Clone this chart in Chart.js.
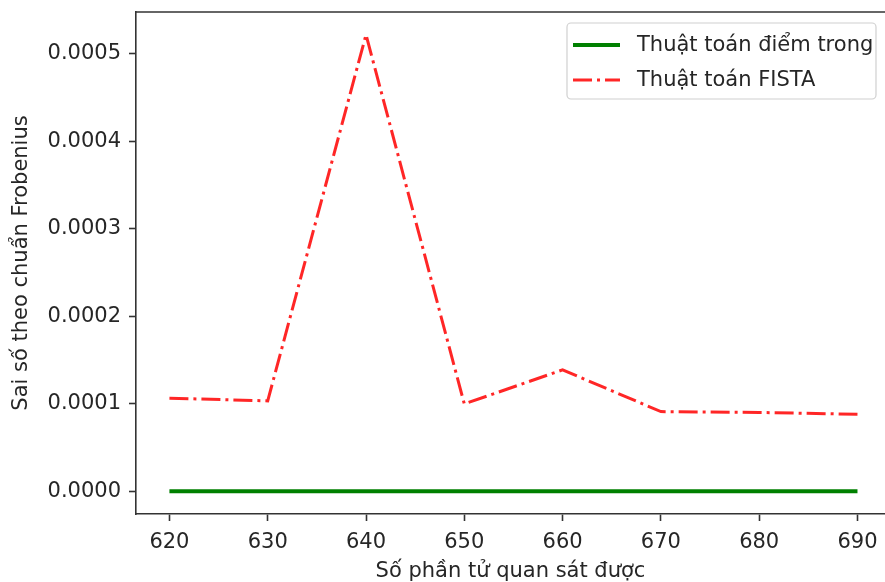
<!DOCTYPE html>
<html>
<head>
<meta charset="utf-8">
<script src="https://cdn.jsdelivr.net/npm/chart.js@4/dist/chart.umd.min.js"></script>
<style>
    html, body { margin: 0; padding: 0; background: #fff; overflow: hidden; }
    canvas { display: block; }
</style>
</head>
<body>
<canvas id="errorChart" width="885" height="582"></canvas>
<script>
// Dane wykresu
const observed = [620, 630, 640, 650, 660, 670, 680, 690];
const interiorPoint = [0, 0, 0, 0, 0, 0, 0, 0];
const fista = [0.0001064, 0.0001033, 0.000522, 0.0000998, 0.0001387, 0.0000910, 0.0000900, 0.0000880];
const xTicks = [620, 630, 640, 650, 660, 670, 680, 690];
const yTicks = [0, 0.0001, 0.0002, 0.0003, 0.0004, 0.0005];

const FONT = 'DejaVu Sans';
const TEXT = '#262626';
const AXIS = '#333';

// Górna krawędź ramki oraz legenda w prawym górnym rogu
// (prawa krawędź wykresu jest ucięta na obrazku)
const framePlugin = {
    id: 'frame',
    afterDraw(chart) {
        const { ctx, chartArea: a } = chart;
        ctx.save();
        ctx.strokeStyle = AXIS;
        ctx.lineWidth = 1.6;
        ctx.beginPath();
        ctx.moveTo(a.left, a.top);
        ctx.lineTo(a.right, a.top);
        ctx.stroke();

        // legenda
        const bx = 567, by = 23, bw = 309, bh = 76;
        ctx.fillStyle = 'rgba(255,255,255,0.8)';
        ctx.strokeStyle = '#d0d0d0';
        ctx.lineWidth = 1.2;
        ctx.beginPath();
        ctx.roundRect(bx, by, bw, bh, 4);
        ctx.fill();
        ctx.stroke();

        ctx.font = '21px ' + FONT;
        ctx.textBaseline = 'middle';
        chart.data.datasets.forEach((ds, i) => {
            const y = 45 + i * 35;
            ctx.strokeStyle = ds.borderColor;
            ctx.lineWidth = ds.borderWidth;
            ctx.setLineDash(ds.borderDash || []);
            ctx.beginPath();
            ctx.moveTo(573, y);
            ctx.lineTo(620, y);
            ctx.stroke();
            ctx.setLineDash([]);
            ctx.fillStyle = TEXT;
            ctx.fillText(ds.label, 637, y + 1);
        });
        ctx.restore();
    }
};

const ctx = document.getElementById('errorChart').getContext('2d');
new Chart(ctx, {
    type: 'line',
    data: {
        datasets: [{
            label: 'Thuật toán điểm trong',
            data: observed.map((x, i) => ({ x: x, y: interiorPoint[i] })),
            borderColor: '#008000',
            borderWidth: 4,
            pointRadius: 0,
            tension: 0
        }, {
            label: 'Thuật toán FISTA',
            data: observed.map((x, i) => ({ x: x, y: fista[i] })),
            borderColor: 'rgba(255,0,0,0.85)',
            borderWidth: 3,
            borderDash: [19, 5, 3, 5],
            pointRadius: 0,
            tension: 0
        }]
    },
    options: {
        responsive: false,
        animation: false,
        devicePixelRatio: 1,
        layout: { padding: { top: 12, left: 0, right: 0, bottom: 0 } },
        plugins: { legend: { display: false }, tooltip: { enabled: false } },
        scales: {
            x: {
                type: 'linear',
                min: 616.6,
                max: 692.8,
                afterBuildTicks: s => { s.ticks = xTicks.map(v => ({ value: v })); },
                // stała wysokość osi, bez dodatkowego marginesu na etykiety
                afterFit: s => { s.height = 68; s.paddingLeft = 0; s.paddingRight = 0; },
                ticks: { font: { family: FONT, size: 21 }, color: TEXT, padding: 9, maxRotation: 0 },
                grid: { drawOnChartArea: false, drawTicks: true, tickLength: 7, tickWidth: 1.6, tickColor: AXIS },
                border: { color: AXIS, width: 1.6 },
                title: {
                    display: true,
                    text: 'Số phần tử quan sát được',
                    font: { family: FONT, size: 21, lineHeight: 1 },
                    color: TEXT,
                    padding: 0
                }
            },
            y: {
                min: -0.0000261,
                max: 0.000548,
                afterBuildTicks: s => { s.ticks = yTicks.map(v => ({ value: v })); },
                afterFit: s => { s.width = 136; s.paddingTop = 0; s.paddingBottom = 0; },
                ticks: {
                    font: { family: FONT, size: 21 },
                    color: TEXT,
                    padding: 8,
                    callback: v => Number(v).toFixed(4)
                },
                grid: { drawOnChartArea: false, drawTicks: true, tickLength: 7, tickWidth: 1.6, tickColor: AXIS },
                border: { color: AXIS, width: 1.6 },
                title: {
                    display: true,
                    text: 'Sai số theo chuẩn Frobenius',
                    font: { family: FONT, size: 21, lineHeight: 1 },
                    color: TEXT,
                    padding: { top: 11, bottom: 0 }
                }
            }
        }
    },
    plugins: [framePlugin]
});
</script>
</body>
</html>
